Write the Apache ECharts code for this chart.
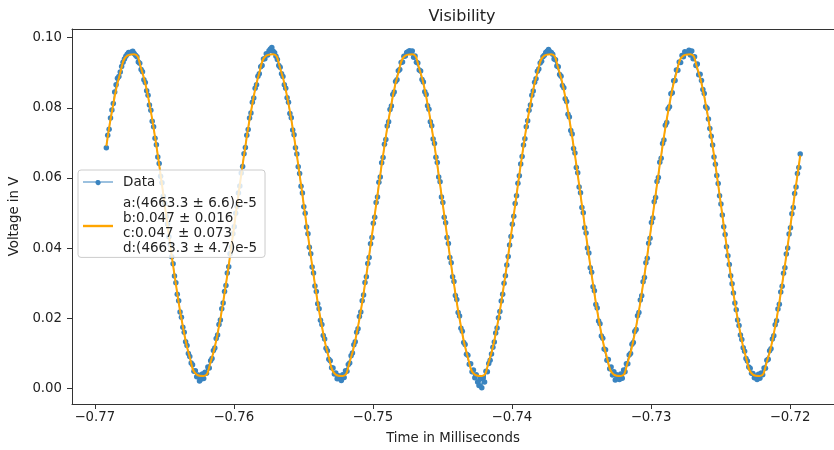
<!DOCTYPE html>
<html>
<head>
<meta charset="utf-8">
<script src="https://cdn.jsdelivr.net/npm/echarts@6/dist/echarts.min.js"></script>
<style>
  html, body { margin: 0; padding: 0; background: #ffffff; }
  #chart { width: 834px; height: 450px; }
</style>
</head>
<body>
<div id="chart"></div>
<script>
// Texts
const chartTitle = 'Visibility';
const xAxisTitle = 'Time in Milliseconds';
const yAxisTitle = 'Voltage in V';
const dataLabel = 'Data';
const fitLabelLines = [
  'a:(4663.3 \u00b1 6.6)e-5',
  'b:0.047 \u00b1 0.016',
  'c:0.047 \u00b1 0.073',
  'd:(4663.3 \u00b1 4.7)e-5'
];

// Tick positions
const xTicks = [-0.77, -0.76, -0.75, -0.74, -0.73, -0.72];
const yTicks = [0.00, 0.02, 0.04, 0.06, 0.08, 0.10];

// Sampling clock of the measurement (ms)
const sampleStart = -0.76917;
const sampleStep = 0.0001;

// Measured voltage, one value per sample (V)
const voltage = [
  0.0686,0.0722,0.0739,0.0771,0.0794,0.0812,0.0845,0.0866,0.0884,0.0889,0.0902,0.0918,0.0930,0.0939,0.0947,0.0953,0.0958,0.0957,
  0.0959,0.0961,0.0955,0.0950,0.0946,0.0931,0.0927,0.0909,0.0903,0.0880,
  0.0872,0.0849,0.0836,0.0808,0.0793,0.0762,0.0746,0.0713,0.0695,0.0660,
  0.0641,0.0605,0.0586,0.0548,0.0527,0.0490,0.0469,0.0432,0.0410,0.0375,
  0.0355,0.0320,0.0301,0.0268,0.0250,0.0218,0.0203,0.0174,0.0160,0.0133,
  0.0122,0.0099,0.0091,0.0072,0.0067,0.0049,0.0050,0.0033,0.0038,0.0021,
  0.0026,0.0041,0.0028,0.0046,0.0043,0.0061,0.0058,0.0079,0.0085,0.0108,
  0.0115,0.0142,0.0152,0.0182,0.0195,0.0227,0.0243,0.0276,0.0293,0.0329,
  0.0347,0.0384,0.0403,0.0441,0.0461,0.0499,0.0519,0.0557,0.0577,0.0614,
  0.0633,0.0669,0.0687,0.0722,0.0738,0.0771,0.0785,0.0816,0.0828,0.0856,
  0.0866,0.0890,0.0897,0.0917,0.0921,0.0939,0.0940,0.0954,0.0951,0.0963,
  0.0968,0.0972,0.0961,0.0957,0.0947,0.0938,0.0921,0.0916,0.0897,0.0889,
  0.0866,0.0856,0.0829,0.0816,0.0784,0.0772,0.0737,0.0723,0.0686,0.0668,
  0.0632,0.0613,0.0576,0.0557,0.0518,0.0499,0.0460,0.0441,0.0402,0.0384,
  0.0346,0.0329,0.0292,0.0276,0.0241,0.0227,0.0194,0.0182,0.0151,0.0141,
  0.0114,0.0107,0.0083,0.0079,0.0059,0.0058,0.0041,0.0044,0.0027,0.0036,
  0.0027,0.0022,0.0039,0.0031,0.0050,0.0049,0.0068,0.0072,0.0093,0.0101,
  0.0124,0.0133,0.0160,0.0170,0.0205,0.0218,0.0250,0.0266,0.0302,0.0318,
  0.0356,0.0373,0.0412,0.0430,0.0471,0.0488,0.0530,0.0546,0.0588,0.0603,
  0.0643,0.0658,0.0696,0.0710,0.0748,0.0760,0.0795,0.0805,0.0838,0.0845,
  0.0875,0.0880,0.0906,0.0909,0.0929,0.0931,0.0947,0.0948,0.0958,0.0960,
  0.0963,0.0957,0.0962,0.0944,0.0948,0.0930,0.0928,0.0908,0.0905,0.0881,
  0.0874,0.0846,0.0838,0.0806,0.0796,0.0760,0.0749,0.0711,0.0698,0.0659,
  0.0644,0.0603,0.0589,0.0546,0.0530,0.0488,0.0472,0.0430,0.0413,0.0373,
  0.0358,0.0318,0.0305,0.0265,0.0253,0.0216,0.0206,0.0171,0.0163,0.0131,
  0.0125,0.0097,0.0094,0.0069,0.0070,0.0047,0.0052,0.0030,0.0039,0.0018,
  0.0008,0.0027,0.0002,0.0030,0.0018,0.0049,0.0047,0.0071,0.0080,0.0098,
  0.0117,0.0132,0.0158,0.0172,0.0201,0.0219,0.0249,0.0268,0.0300,0.0321,
  0.0352,0.0376,0.0409,0.0433,0.0468,0.0491,0.0527,0.0549,0.0585,0.0606,
  0.0640,0.0661,0.0694,0.0712,0.0746,0.0763,0.0793,0.0808,0.0836,0.0848,
  0.0873,0.0883,0.0904,0.0911,0.0928,0.0933,0.0946,0.0950,0.0958,0.0961,
  0.0966,0.0960,0.0958,0.0953,0.0939,0.0937,0.0919,0.0917,0.0895,0.0890,
  0.0864,0.0857,0.0826,0.0818,0.0782,0.0774,0.0735,0.0725,0.0684,0.0671,
  0.0630,0.0615,0.0574,0.0558,0.0516,0.0501,0.0458,0.0443,0.0400,0.0386,
  0.0344,0.0331,0.0290,0.0278,0.0239,0.0229,0.0192,0.0184,0.0149,0.0143,
  0.0112,0.0110,0.0080,0.0082,0.0056,0.0061,0.0038,0.0047,0.0024,0.0039,
  0.0028,0.0025,0.0041,0.0029,0.0052,0.0047,0.0070,0.0070,0.0095,0.0099,
  0.0126,0.0131,0.0162,0.0168,0.0207,0.0216,0.0252,0.0264,0.0304,0.0316,
  0.0358,0.0371,0.0414,0.0428,0.0473,0.0486,0.0532,0.0544,0.0590,0.0601,
  0.0645,0.0656,0.0698,0.0708,0.0750,0.0758,0.0797,0.0803,0.0840,0.0843,
  0.0877,0.0878,0.0908,0.0907,0.0931,0.0929,0.0949,0.0946,0.0960,0.0958,
  0.0958,0.0964,0.0951,0.0962,0.0940,0.0946,0.0921,0.0925,0.0894,0.0896,
  0.0878,0.0852,0.0841,0.0803,0.0799,0.0768,0.0741,0.0719,0.0694,0.0660,
  0.0639,0.0607,0.0584,0.0549,0.0526,0.0494,0.0461,0.0439,0.0404,0.0378,
  0.0353,0.0321,0.0298,0.0272,0.0243,0.0224,0.0195,0.0179,0.0152,0.0139,
  0.0116,0.0106,0.0085,0.0078,0.0061,0.0057,0.0043,0.0042,0.0030,0.0035,
  0.0025,0.0040,0.0029,0.0044,0.0039,0.0058,0.0057,0.0080,0.0083,0.0107,
  0.0113,0.0141,0.0150,0.0181,0.0193,0.0226,0.0240,0.0275,0.0291,0.0328,
  0.0344,0.0383,0.0400,0.0440,0.0458,0.0498,0.0516,0.0556,0.0574,0.0613,
  0.0630,0.0668
];

// Fitted curve, evaluated every 5th sample, plus its value at the last sample (V)
const fitEvery = 5;
const fitVoltage = [
  0.0691,0.0811,0.0900,0.0949,0.0953,0.0913,0.0832,0.0717,0.0581,0.0436,
  0.0297,0.0177,0.0088,0.0039,0.0035,0.0075,0.0156,0.0271,0.0407,0.0552,
  0.0691,0.0811,0.0900,0.0949,0.0953,0.0913,0.0832,0.0717,0.0581,0.0436,
  0.0297,0.0177,0.0088,0.0039,0.0035,0.0075,0.0156,0.0271,0.0407,0.0552,
  0.0691,0.0811,0.0900,0.0949,0.0953,0.0913,0.0832,0.0717,0.0581,0.0436,
  0.0297,0.0177,0.0088,0.0039,0.0035,0.0075,0.0156,0.0271,0.0407,0.0552,
  0.0691,0.0811,0.0900,0.0949,0.0953,0.0913,0.0832,0.0717,0.0581,0.0436,
  0.0297,0.0177,0.0088,0.0039,0.0035,0.0075,0.0156,0.0271,0.0407,0.0552,
  0.0691,0.0811,0.0900,0.0949,0.0953,0.0913,0.0832,0.0717,0.0581,0.0436,
  0.0297,0.0177,0.0088,0.0039,0.0035,0.0075,0.0156,0.0271,0.0407,0.0552
];
const fitEndVoltage = 0.0664;

// Build [time, voltage] pairs for the library
const dataPoints = voltage.map((v, i) => [sampleStart + i * sampleStep, v]);
const fitPoints = fitVoltage.map((v, j) => [sampleStart + j * fitEvery * sampleStep, v]);
fitPoints.push([sampleStart + (voltage.length - 1) * sampleStep, fitEndVoltage]);
const fitLabel = fitLabelLines.join('\n');

const FONT = 'DejaVu Sans';
const INK = '#222222';
const SPINE = '#333333';

// Legend handles: thin line with a dot for the samples, a plain bar for the fit
const dataHandle = 'path://M0,2 H30 V3 H0 Z M17.6,2.5 A2.6,2.6 0 1 1 17.59,2.45 Z';
const fitHandle = 'path://M0,0 H30 V2.4 H0 Z';

const chart = echarts.init(document.getElementById('chart'), null, { renderer: 'canvas' });

chart.setOption({
  animation: false,
  backgroundColor: '#ffffff',
  title: {
    text: chartTitle,
    left: 457,
    top: 4,
    textAlign: 'center',
    textStyle: { fontFamily: FONT, fontSize: 16, fontWeight: 'normal', color: INK }
  },
  grid: {
    left: 72,
    right: -8,
    top: 29,
    bottom: 45.3,
    show: false
  },
  legend: {
    orient: 'vertical',
    left: 78,
    top: 170,
    padding: [5, 8, 1, 5],
    itemGap: 5.4,
    itemWidth: 30,
    itemHeight: 12,
    backgroundColor: 'rgba(255,255,255,0.8)',
    borderColor: '#cccccc',
    borderWidth: 1,
    borderRadius: 3,
    data: [
      { name: dataLabel, icon: dataHandle },
      { name: fitLabel, icon: fitHandle }
    ],
    textStyle: {
      fontFamily: FONT,
      fontSize: 13.5,
      lineHeight: 15.2,
      color: INK,
      padding: [0, 0, 0, 5]
    }
  },
  xAxis: [
    {
      type: 'value',
      min: -0.77164,
      max: -0.71684,
      name: xAxisTitle,
      nameLocation: 'middle',
      nameGap: 28,
      nameTextStyle: { fontFamily: FONT, fontSize: 13.3, color: INK },
      axisLine: { show: true, onZero: false, lineStyle: { color: SPINE, width: 1 } },
      axisTick: { show: true, inside: false, length: 5, customValues: xTicks, lineStyle: { color: SPINE, width: 1 } },
      axisLabel: {
        customValues: xTicks,
        margin: 7,
        fontFamily: FONT,
        fontSize: 13.3,
        color: INK,
        formatter: v => (v < 0 ? '\u2212' : '') + Math.abs(v).toFixed(2)
      },
      splitLine: { show: false }
    },
    {
      // top frame line of the plot area
      type: 'value',
      position: 'top',
      min: -0.77164,
      max: -0.71684,
      axisLine: { show: true, onZero: false, lineStyle: { color: SPINE, width: 1 } },
      axisTick: { show: false },
      axisLabel: { show: false },
      splitLine: { show: false }
    }
  ],
  yAxis: {
    type: 'value',
    min: -0.00447,
    max: 0.10248,
    name: yAxisTitle,
    nameLocation: 'middle',
    nameGap: 45,
    nameRotate: 90,
    nameTextStyle: { fontFamily: FONT, fontSize: 13.3, color: INK },
    axisLine: { show: true, onZero: false, lineStyle: { color: SPINE, width: 1 } },
    axisTick: { show: true, inside: false, length: 5, customValues: yTicks, lineStyle: { color: SPINE, width: 1 } },
    axisLabel: {
      customValues: yTicks,
      margin: 10,
      fontFamily: FONT,
      fontSize: 13.3,
      color: INK,
      formatter: v => v.toFixed(2)
    },
    splitLine: { show: false }
  },
  series: [
    {
      name: dataLabel,
      type: 'line',
      xAxisIndex: 0,
      data: dataPoints,
      symbol: 'circle',
      symbolSize: 5.5,
      showSymbol: true,
      showAllSymbol: true,
      color: '#1f77b4',
      itemStyle: { color: '#3a84c0', borderWidth: 0 },
      lineStyle: { color: '#1f77b4', width: 1 },
      z: 2
    },
    {
      name: fitLabel,
      type: 'line',
      xAxisIndex: 0,
      data: fitPoints,
      smooth: 0.5,
      symbol: 'none',
      showSymbol: false,
      color: '#ffa500',
      lineStyle: { color: '#ffa500', width: 2 },
      z: 3
    }
  ]
});
</script>
</body>
</html>
